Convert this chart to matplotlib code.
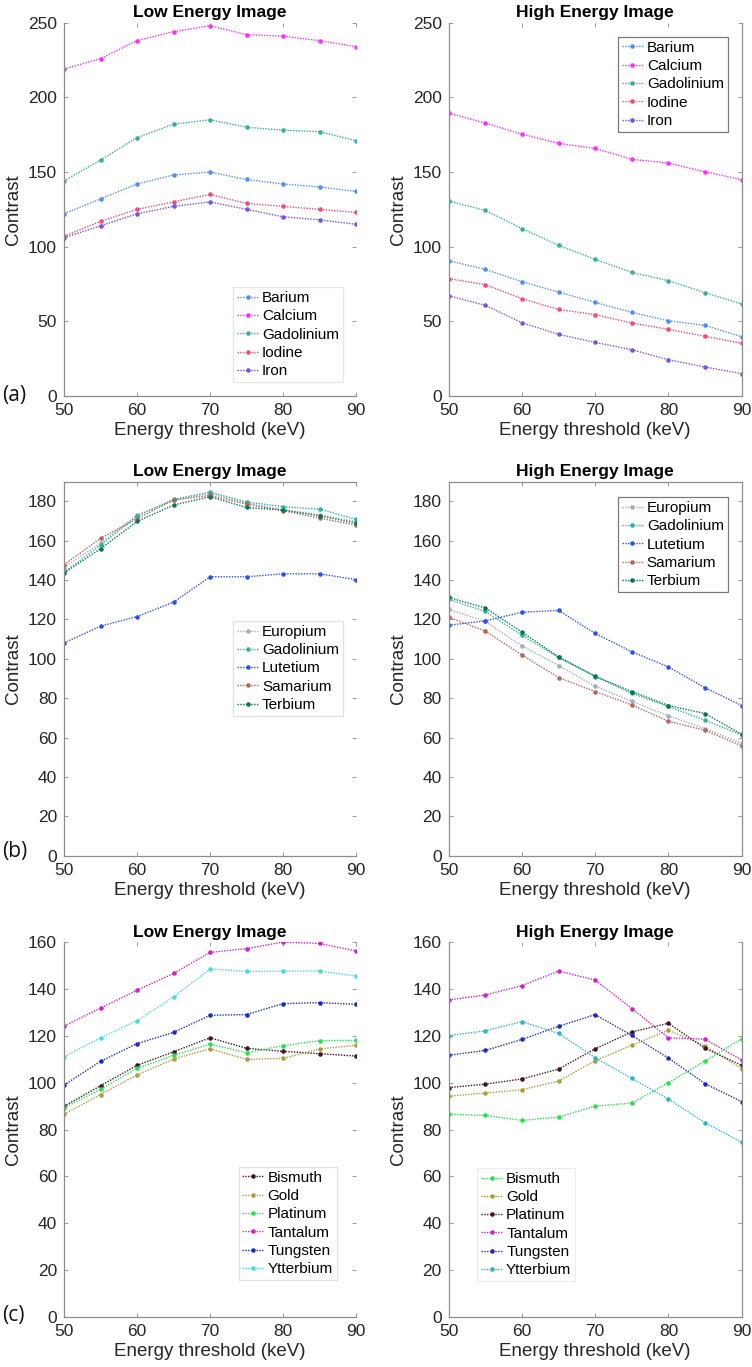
import matplotlib.pyplot as plt

plt.rcParams['font.family'] = ['Liberation Sans', 'DejaVu Sans']

energy = [50, 55, 60, 65, 70, 75, 80, 85, 90]
xticks = [50, 60, 70, 80, 90]

# (a) contrast agents
a_names = ["Barium", "Calcium", "Gadolinium", "Iodine", "Iron"]
a_colors = ["#4d8ef7", "#ff2bff", "#35b09a", "#f5487a", "#7752e0"]
a_low = [
    [122, 132, 142, 148, 150, 145, 142, 140, 137],
    [219, 226, 238, 244, 248, 242, 241, 238, 234],
    [144, 158, 173, 182, 185, 180, 178, 177, 171],
    [107, 117, 125, 130, 135, 129, 127, 125, 123],
    [106, 114, 122, 127, 130, 125, 120, 118, 115],
]
a_high = [
    [90.6, 84.8, 76.6, 69.6, 62.7, 56.0, 50.4, 47.3, 39.7],
    [189.5, 182.8, 175.4, 169.2, 165.8, 158.5, 156.0, 150.2, 144.9],
    [130.6, 124.3, 112.1, 100.9, 91.5, 82.8, 77.2, 69.2, 61.6],
    [78.6, 74.6, 65.2, 58.0, 54.5, 48.9, 44.6, 40.0, 35.3],
    [67.2, 60.7, 49.1, 41.3, 35.9, 31.0, 24.3, 19.4, 15.0],
]

# (b) lanthanides
b_names = ["Europium", "Gadolinium", "Lutetium", "Samarium", "Terbium"]
b_colors = ["#a8acc0", "#2ab59c", "#2f4ef0", "#b8645a", "#0a7550"]
b_low = [
    [146.4, 158.8, 173.0, 180.7, 184.0, 179.0, 175.8, 173.2, 169.8],
    [143.9, 157.8, 172.5, 181.0, 184.7, 179.7, 177.3, 176.1, 170.8],
    [108.1, 116.6, 121.5, 128.8, 141.7, 141.7, 143.2, 143.2, 140.3],
    [147.8, 161.2, 171.2, 180.7, 183.0, 178.6, 175.3, 171.5, 168.0],
    [143.6, 155.9, 169.8, 178.1, 182.4, 176.9, 175.6, 172.7, 169.0],
]
b_high = [
    [125.1, 119.0, 106.6, 96.6, 86.1, 78.4, 71.0, 64.6, 57.1],
    [130.2, 124.1, 112.0, 100.7, 91.0, 82.5, 75.8, 68.8, 61.4],
    [117.1, 119.3, 123.7, 124.6, 112.9, 103.6, 95.9, 85.3, 76.3],
    [121.2, 114.1, 102.0, 90.5, 83.4, 76.6, 68.3, 63.7, 55.8],
    [131.2, 125.9, 113.6, 101.0, 91.2, 83.4, 76.3, 72.2, 61.7],
]

# (c) heavy metals
c_names = ["Bismuth", "Gold", "Platinum", "Tantalum", "Tungsten", "Ytterbium"]
c_colors_low = ["#3d1426", "#b09a3c", "#28e050", "#d020c8", "#1a2cbf", "#48dcd8"]
c_colors_high = ["#28e050", "#b09a3c", "#3d1426", "#d020c8", "#1a2cbf", "#2ab8c0"]
c_low = [
    [89.9, 98.7, 107.4, 113.2, 119.2, 114.7, 113.4, 112.4, 111.4],
    [86.5, 94.9, 103.3, 110.1, 114.5, 110.0, 110.4, 114.4, 116.0],
    [89.2, 97.2, 106.1, 111.7, 116.5, 112.8, 115.8, 118.0, 118.1],
    [124.2, 131.9, 139.5, 146.7, 155.7, 157.3, 160.1, 159.5, 156.3],
    [99.0, 109.1, 116.7, 121.5, 128.8, 129.1, 133.8, 134.2, 133.5],
    [111.1, 119.2, 126.5, 136.6, 148.6, 147.6, 147.7, 147.7, 145.6],
]
c_high = [
    [86.6, 86.0, 83.9, 85.3, 90.0, 91.3, 100.0, 109.3, 118.8],
    [94.2, 95.6, 97.0, 100.7, 109.4, 116.0, 122.4, 115.7, 106.0],
    [97.9, 99.4, 101.6, 105.8, 114.5, 121.7, 125.4, 114.7, 107.4],
    [135.4, 137.5, 141.5, 147.7, 143.9, 131.7, 119.2, 118.6, 109.7],
    [111.7, 113.8, 118.5, 124.1, 129.1, 120.2, 110.5, 99.6, 91.9],
    [120.1, 122.2, 126.1, 121.1, 110.7, 101.8, 93.0, 82.9, 74.5],
]

W, H = 752, 1367
fig = plt.figure(figsize=(W / 100, H / 100), dpi=100)


def make_axes(left_px, top_px, right_px, bottom_px):
    return fig.add_axes([left_px / W, 1 - bottom_px / H,
                         (right_px - left_px) / W, (bottom_px - top_px) / H])


def draw(ax, title, names, colors, data, ylim, yticks, leg_anchor, leg_edge,
         show_spines):
    for name, col, vals in zip(names, colors, data):
        ax.plot(energy, vals, linestyle=(0, (1, 1)), linewidth=1.0, color=col,
                marker='.', markersize=4.5, label=name)
    ax.set_xlim(50, 90)
    ax.set_ylim(*ylim)
    ax.set_xticks(xticks)
    ax.set_yticks(yticks)
    ax.set_title(title, fontsize=12.5, fontweight='bold', pad=4)
    ax.set_xlabel("Energy threshold (keV)", fontsize=13.5, labelpad=3, color='#262626')
    ax.set_ylabel("Contrast", fontsize=13.5, labelpad=4, color='#262626')
    ax.tick_params(direction='in', length=3, width=0.6, colors='#8c8c8c',
                   labelcolor='#262626', labelsize=12.5, top=True, right=True, pad=5)
    for side, sp in ax.spines.items():
        sp.set_color('#8c8c8c')
        sp.set_linewidth(0.9)
        sp.set_visible(side in show_spines)
    leg = ax.legend(loc='lower left', bbox_to_anchor=leg_anchor, borderaxespad=0,
                    fontsize=11, handlelength=1.4, handletextpad=0.25,
                    labelspacing=0.28, borderpad=0.25, fancybox=False,
                    framealpha=1)
    leg.get_frame().set_edgecolor(leg_edge)
    leg.get_frame().set_linewidth(0.9)


rows = [(22.7, 396.0), (481.7, 855.7), (942.3, 1316.7)]
lefts = (64, 356)
rights = (448.7, 741.7)

# row (a)
ax = make_axes(lefts[0], rows[0][0], lefts[1], rows[0][1])
draw(ax, "Low Energy Image", a_names, a_colors, a_low, (0, 250),
     [0, 50, 100, 150, 200, 250], (0.579, 0.0375), '#e6e6e6', ('left', 'bottom'))
ax = make_axes(rights[0], rows[0][0], rights[1], rows[0][1])
draw(ax, "High Energy Image", a_names, a_colors, a_high, (0, 250),
     [0, 50, 100, 150, 200, 250], (0.577, 0.708), '#7a7a7a',
     ('left', 'bottom', 'right'))

# row (b)
ax = make_axes(lefts[0], rows[1][0], lefts[1], rows[1][1])
draw(ax, "Low Energy Image", b_names, b_colors, b_low, (0, 190),
     list(range(0, 181, 20)), (0.579, 0.374), '#e0e0e0', ('left', 'bottom', 'top'))
ax = make_axes(rights[0], rows[1][0], rights[1], rows[1][1])
draw(ax, "High Energy Image", b_names, b_colors, b_high, (0, 190),
     list(range(0, 181, 20)), (0.577, 0.705), '#7a7a7a',
     ('left', 'bottom', 'right', 'top'))

# row (c)
ax = make_axes(lefts[0], rows[2][0], lefts[1], rows[2][1])
draw(ax, "Low Energy Image", c_names, c_colors_low, c_low, (0, 160),
     list(range(0, 161, 20)), (0.598, 0.098), '#e0e0e0', ('left', 'bottom'))
ax = make_axes(rights[0], rows[2][0], rights[1], rows[2][1])
draw(ax, "High Energy Image", c_names, c_colors_high, c_high, (0, 160),
     list(range(0, 161, 20)), (0.097, 0.095), '#ededed',
     ('left', 'bottom', 'right'))

# panel letters
for letter, ypx in zip(["(a)", "(b)", "(c)"], [396, 852, 1316]):
    fig.text(2 / W, 1 - ypx / H, letter, fontsize=15, ha='left', va='center',
             color='#111111', family=['Open Sans', 'DejaVu Sans'])

fig.savefig("out.png", dpi=100)
